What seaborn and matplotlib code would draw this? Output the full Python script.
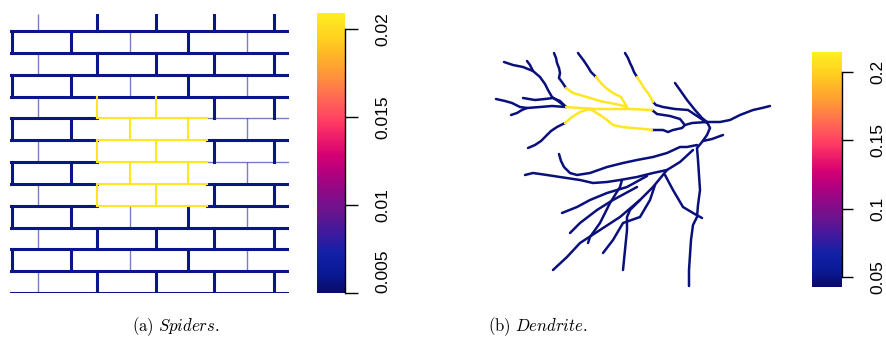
import numpy as np
import pandas as pd
import matplotlib
matplotlib.use("Agg")
import matplotlib.pyplot as plt
import seaborn as sns
from matplotlib.colors import LinearSegmentedColormap, Normalize
from matplotlib.cm import ScalarMappable

# ---------------- Spiders: brick-wall mortar network (mm) ----------------
wall_size = 1125
course_y = [0, 88, 176, 264, 352, 440, 528, 616, 704, 792, 880, 968, 1056]
joints_even = [113, 351, 589, 823, 1064]     # perpends in courses 0, 2, 4, ...
joints_odd = [8, 246, 484, 718, 956]         # perpends in courses 1, 3, 5, ...
hot_courses = [4, 5, 6, 7, 8]
hot_span = [351, 794]
spider_low = 0.0058
spider_high = 0.0205
spider_range = [0.005, 0.0209]
spider_ticks = [0.005, 0.01, 0.015, 0.02]
spider_ticklabels = ["0.005", "0.01", "0.015", "0.02"]

# ---------------- Dendrite: branch polylines (x, y; y measured downward) ----------------
far_left = [(504, 62), (513, 65), (523, 67), (533, 71), (540, 77), (545, 84), (548, 90), (552, 97), (558, 101), (566, 107)]
far_left_twig = [(527, 61), (530, 65), (533, 71)]
top_branch = [(554, 53), (556, 58), (557, 63), (559, 68), (560, 73), (559, 78), (562, 82), (566, 88)]
upper_mid = [(578, 53), (581, 57), (584, 61), (588, 67), (591, 72), (596, 77)]
upper_right = [(625, 53), (628, 58), (630, 63), (632, 67), (634, 72), (637, 77)]
left_spur = [(496, 99), (505, 101), (512, 103), (520, 107), (527, 108), (540, 107), (552, 106), (566, 107)]
left_twig = [(511, 115), (517, 113), (522, 110), (527, 108)]
left_loop = [(523, 98), (535, 100), (545, 99), (553, 98), (560, 101), (566, 107)]
lower_left = [(528, 148), (535, 145), (541, 141), (546, 136), (551, 131), (557, 127), (565, 123)]

hot_top = [(566, 88), (573, 93), (580, 95), (590, 98), (600, 101), (610, 103), (620, 105), (627, 107)]
hot_upper_mid = [(596, 77), (601, 83), (606, 88), (613, 93), (621, 97), (624, 102), (627, 107)]
hot_mid = [(566, 107), (580, 108), (597, 109), (615, 109), (630, 109), (652, 110)]
hot_lower_up = [(565, 123), (572, 117), (580, 112), (590, 109)]
hot_lower = [(590, 109), (600, 115), (607, 120), (613, 125), (622, 127), (632, 128), (645, 129), (652, 130)]
hot_upper_right = [(637, 77), (641, 83), (644, 88), (648, 93), (651, 98), (653, 102)]

upper_right_hub = [(653, 102), (656, 105), (663, 107), (675, 109), (688, 110), (697, 116), (703, 120), (707, 123)]
mid_hub = [(652, 110), (657, 114), (670, 116), (680, 119), (684, 124)]
lower_hub = [(652, 130), (663, 130), (668, 132), (673, 130), (682, 128), (685, 125), (692, 123), (707, 122)]
right_upper = [(675, 83), (680, 90), (687, 100), (695, 110), (702, 118), (707, 122)]
right_arm = [(707, 122), (720, 122), (730, 120), (740, 115), (753, 110), (762, 108), (770, 106)]
hub_down = [(707, 122), (710, 128), (707, 135), (702, 142), (697, 148)]
trunk_spine = [(703, 141), (712, 139), (723, 135)]
trunk = [(697, 148), (698, 160), (699, 175), (700, 190), (698, 205), (697, 217), (693, 225), (691, 240), (690, 255), (689, 270), (689, 286)]
left_arc = [(697, 145), (687, 147), (680, 147), (667, 153), (653, 157), (637, 160), (623, 163), (607, 167), (590, 173), (577, 175), (570, 173), (564, 167), (561, 161), (559, 154)]
left_long = [(525, 175), (533, 173), (547, 175), (560, 177), (580, 180), (593, 183), (607, 182), (620, 180), (637, 177), (653, 173), (667, 170), (680, 162), (693, 150)]
fan_a = [(667, 170), (653, 187), (640, 200), (620, 217), (600, 230), (580, 243), (567, 257), (553, 270)]
fan_b = [(647, 176), (627, 187), (607, 193), (590, 200), (577, 207), (562, 213)]
fan_c = [(637, 187), (613, 200), (597, 210), (580, 223), (570, 233)]
fan_d = [(622, 180), (620, 187), (610, 203), (600, 223), (590, 237), (588, 243)]
fan_e = [(655, 185), (650, 200), (640, 217), (623, 223), (613, 240), (603, 253)]
fan_f = [(640, 200), (630, 210), (627, 217), (627, 230), (625, 250), (623, 270)]
fan_g = [(665, 175), (673, 190), (683, 207), (693, 213), (702, 218)]

dendrite_low = 0.048
dendrite_high = 0.21
dendrite_range = [0.0427, 0.2146]
dendrite_ticks = [0.05, 0.1, 0.15, 0.2]
dendrite_ticklabels = ["0.05", "0.1", "0.15", "0.2"]

captions = [r"$\mathrm{(a)}\ \mathit{Spiders}\mathrm{.}$", r"$\mathrm{(b)}\ \mathit{Dendrite}\mathrm{.}$"]

# ---------------- styling ----------------
key_colours = ["#0a0a6a", "#0a1a96", "#1220a6", "#3c1aa0", "#6a148e", "#8c0a88",
               "#b4007e", "#d40074", "#ec1a6a", "#ff3a64", "#ff5a5a", "#ff7a4a",
               "#ff9a36", "#ffb428", "#ffcc20", "#ffee22"]
key_stops = [0, 0.07, 0.14, 0.21, 0.29, 0.36, 0.43, 0.49, 0.55, 0.61, 0.67, 0.73,
             0.79, 0.85, 0.9, 1.0]
intensity_cmap = LinearSegmentedColormap.from_list("intensity", list(zip(key_stops, key_colours)))

thin_joints = [113, 484, 956]
thin_course_tails = [6, 8]

sns.set_theme(style="white")
plt.rcParams["font.family"] = ["Liberation Sans", "DejaVu Sans"]
plt.rcParams["mathtext.fontset"] = "cm"
plt.rcParams["text.color"] = "black"


def build_wall():
    recs = []
    pid = 0

    def add(xs, ys, level, weight):
        nonlocal pid
        for x, y in zip(xs, ys):
            recs.append(dict(piece=pid, x=x, y=y, level=level, weight=weight))
        pid += 1

    # horizontal bed joints
    for i, y in enumerate(course_y):
        if i in hot_courses:
            pieces = [(0, hot_span[0], spider_low), (hot_span[0], hot_span[1], spider_high),
                      (hot_span[1], wall_size, spider_low)]
        else:
            pieces = [(0, wall_size, spider_low)]
        for x0, x1, lev in pieces:
            if lev == spider_high:
                w = "hot"
            elif i in thin_course_tails and x0 == hot_span[1]:
                w = "thin"
            else:
                w = "thick"
            add([x0, x1], [y, y], lev, w)

    # vertical perpends
    for r, y0 in enumerate(course_y):
        y1 = course_y[r + 1] if r + 1 < len(course_y) else wall_size
        joints = joints_even if r % 2 == 0 else joints_odd
        for jx in joints:
            hot = r in hot_courses and hot_span[0] <= jx <= hot_span[1]
            lev = spider_high if hot else spider_low
            w = "hot" if hot else ("thin" if jx in thin_joints else "thick")
            add([jx, jx], [y0, y1], lev, w)
    return pd.DataFrame(recs)


def build_dendrite():
    low = [far_left, far_left_twig, top_branch, upper_mid, upper_right, left_spur,
           left_twig, left_loop, lower_left, upper_right_hub, mid_hub, lower_hub,
           right_upper, right_arm, hub_down, trunk_spine, trunk, left_arc, left_long,
           fan_a, fan_b, fan_c, fan_d, fan_e, fan_f, fan_g]
    high = [hot_top, hot_upper_mid, hot_mid, hot_lower_up, hot_lower, hot_upper_right]
    recs = []
    pid = 0
    for group, lev, w in [(low, dendrite_low, "branch"), (high, dendrite_high, "hotbranch")]:
        for br in group:
            for x, y in br:
                recs.append(dict(piece=pid, x=x, y=y, level=lev, weight=w))
            pid += 1
    return pd.DataFrame(recs)


def draw_network(ax, df, norm, styles):
    for w, (lw, alpha, cap) in styles.items():
        sub = df[df.weight == w]
        if sub.empty:
            continue
        sns.lineplot(data=sub, x="x", y="y", units="piece", hue="level",
                     palette=intensity_cmap, hue_norm=norm, estimator=None,
                     sort=False, legend=False, linewidth=lw, alpha=alpha,
                     solid_capstyle=cap, solid_joinstyle="miter", ax=ax)
    ax.set_axis_off()


def colour_key(fig, cax, rng, ticks, labels, ticklen, lift_first=False):
    sm = ScalarMappable(norm=Normalize(*rng), cmap=intensity_cmap)
    cb = fig.colorbar(sm, cax=cax, ticks=ticks)
    cb.outline.set_visible(False)
    cb.set_ticklabels(labels)
    cax.spines["right"].set_visible(True)
    cax.spines["right"].set_bounds(ticks[0], ticks[-1])
    cax.spines["right"].set_linewidth(1.0)
    cax.spines["right"].set_color("black")
    cax.tick_params(axis="y", length=ticklen, width=1.0, pad=12.5, labelsize=12.5,
                    labelrotation=90, colors="black")
    for k, t in enumerate(cax.get_yticklabels()):
        # the lowest label sits above its tick so it stays inside the key
        t.set_va("bottom" if (lift_first and k == 0) else "center")


W, H = 886, 338
fig = plt.figure(figsize=(W / 100, H / 100), dpi=100)

def frac(x0, y0, x1, y1):
    return [x0 / W, 1 - y1 / H, (x1 - x0) / W, (y1 - y0) / H]

# Spiders panel
ax1 = fig.add_axes(frac(10, 14, 289, 293))
wall = build_wall()
draw_network(ax1, wall, Normalize(*spider_range),
             {"thin": (1.0, 0.55, "butt"), "thick": (2.2, 1.0, "projecting"),
              "hot": (1.5, 1.0, "projecting")})
ax1.set_xlim(0, wall_size)
ax1.set_ylim(0, wall_size)

cax1 = fig.add_axes(frac(317, 13, 345, 293))
colour_key(fig, cax1, spider_range, spider_ticks, spider_ticklabels, 9.5, lift_first=True)

# Dendrite panel
ax2 = fig.add_axes(frac(490, 45, 780, 290))
den = build_dendrite()
draw_network(ax2, den, Normalize(*dendrite_range),
             {"branch": (1.8, 1.0, "round"), "hotbranch": (1.8, 1.0, "round")})
ax2.set_xlim(490, 780)
ax2.set_ylim(290, 45)

cax2 = fig.add_axes(frac(812, 52, 842, 287))
colour_key(fig, cax2, dendrite_range, dendrite_ticks, dendrite_ticklabels, 8)

fig.text(176 / W, 1 - 327 / H, captions[0], ha="center", va="center", fontsize=12, color="black")
fig.text(538 / W, 1 - 327 / H, captions[1], ha="center", va="center", fontsize=12, color="black")

fig.savefig("out.png", dpi=100)
